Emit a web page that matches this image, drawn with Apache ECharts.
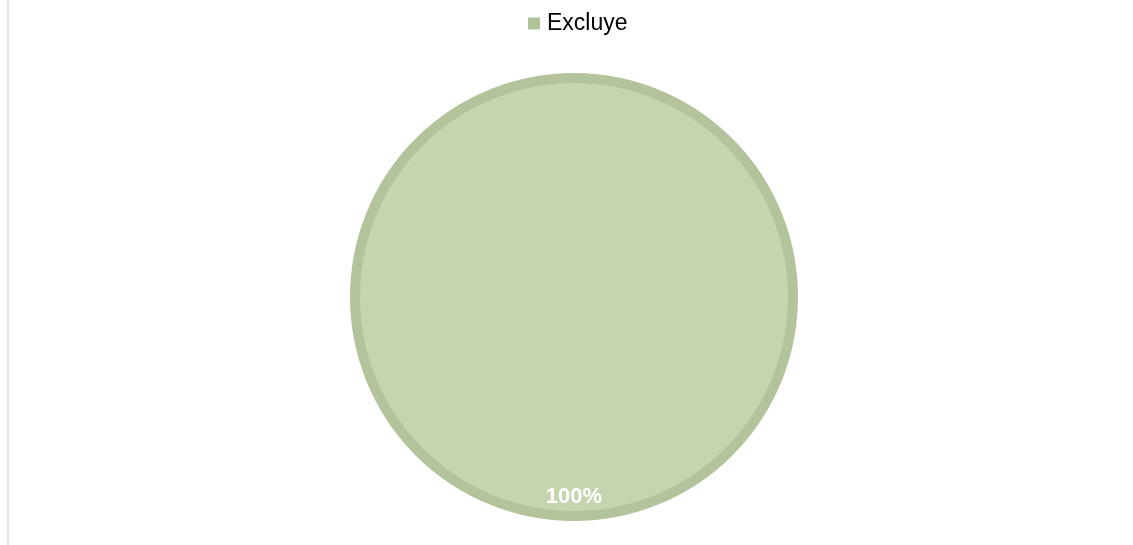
<!DOCTYPE html>
<html>
<head>
<meta charset="utf-8">
<script src="https://cdn.jsdelivr.net/npm/echarts@6/dist/echarts.min.js"></script>
<style>
  html, body { margin: 0; padding: 0; background: #ffffff; }
  #chart { width: 1133px; height: 545px; }
</style>
</head>
<body>
<div id="chart"></div>
<script>
// Share of records by category
const categories = ['Excluye'];
const values = [100];
const labels = ['100%'];

const fillColor = '#c5d5ae';
const edgeColor = '#b3c39b';

const pieData = categories.map((name, i) => ({ name: name, value: values[i] }));
const labelData = categories.map((name, i) => ({ name: name, value: values[i], labelText: labels[i] }));

const chart = echarts.init(document.getElementById('chart'), null, { renderer: 'canvas' });

chart.setOption({
  animation: false,
  backgroundColor: '#ffffff',
  color: [fillColor],
  legend: {
    top: 7,
    left: 523,
    itemWidth: 12,
    itemHeight: 12,
    itemGap: 10,
    icon: 'rect',
    itemStyle: { color: '#b0c298', borderWidth: 0 },
    textStyle: { fontFamily: 'Liberation Sans, Arial, sans-serif', fontSize: 23, color: '#000000', padding: [0, 0, 0, 2] },
    data: categories
  },
  graphic: [{
    type: 'line',
    shape: { x1: 8, y1: 0, x2: 8, y2: 545 },
    style: { stroke: '#d9d9d9', lineWidth: 1.5 },
    silent: true
  }],
  series: [
    {
      type: 'pie',
      center: [574, 297],
      radius: [0, 219],
      startAngle: 90,
      silent: true,
      itemStyle: { color: fillColor, borderColor: edgeColor, borderWidth: 10 },
      label: { show: false },
      labelLine: { show: false },
      data: pieData
    },
    {
      // outer ring that carries the percentage label near the rim
      type: 'pie',
      center: [574, 297],
      radius: [170, 224],
      startAngle: 90,
      silent: true,
      legendHoverLink: false,
      itemStyle: { color: 'rgba(0,0,0,0)', borderWidth: 0 },
      label: {
        show: true,
        position: 'inside',
        formatter: p => p.data.labelText,
        fontFamily: 'Liberation Sans, Arial, sans-serif',
        fontSize: 22,
        fontWeight: 'bold',
        color: '#ffffff'
      },
      labelLine: { show: false },
      data: labelData
    }
  ]
});
</script>
</body>
</html>
